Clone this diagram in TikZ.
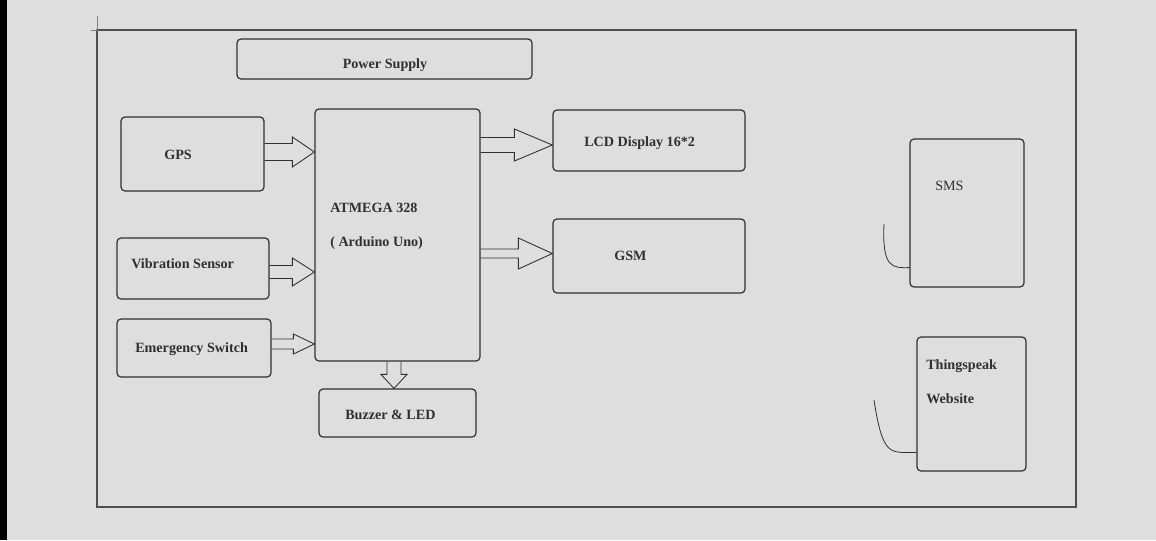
\documentclass[tikz,border=0pt]{standalone}
\usepackage{fontspec}
\setmainfont{Liberation Serif}
\usetikzlibrary{calc}
\definecolor{paper}{HTML}{DEDEDE}
\definecolor{ink}{HTML}{303030}
\tikzset{
  >=latex,
  box/.style={draw=ink,line width=0.9pt,rounded corners=3pt,inner sep=0pt},
  sz/.style 2 args={minimum width=#1*0.75pt,minimum height=#2*0.75pt},
  lbl/.style={font=\fontsize{10.6}{12}\selectfont\bfseries,text=ink,inner sep=0pt,anchor=base west},
  blockarrow/.style={draw=ink,line width=0.65pt,line join=miter},
  hook/.style={draw=ink,line width=0.6pt},
}
% hollow block arrows: start, tip, half shaft, half head, head length
\newcommand\harrow[5]{%
  \draw[blockarrow] ($(#1)+(0,#3)$) -- ($(#2)+(-#5,#3)$) -- ($(#2)+(-#5,#4)$)
    -- (#2) -- ($(#2)+(-#5,-#4)$) -- ($(#2)+(-#5,-#3)$) -- ($(#1)+(0,-#3)$);}
\newcommand\varrow[5]{%
  \draw[blockarrow] ($(#1)+(#3,0)$) -- ($(#2)+(#3,-#5)$) -- ($(#2)+(#4,-#5)$)
    -- (#2) -- ($(#2)+(-#4,-#5)$) -- ($(#2)+(-#3,-#5)$) -- ($(#1)+(-#3,0)$);}

\begin{document}
\begin{tikzpicture}[x=0.75pt,y=-0.75pt]
  \fill[paper] (0,0) rectangle (1156,540);
  \fill[black] (0,0) rectangle (7,540);
  % outer frame
  \draw[ink!85,line width=0.8pt] (97,30) rectangle (1076,507);
  \draw[ink!60,line width=0.4pt] (97,16) -- (97,30) -- (91,30);

  % blocks
  \node[box,sz={295}{40}] (power) at (384.5,59) {};
  \node[box,sz={143}{74}] (gps) at (192.5,154) {};
  \node[box,sz={152}{61}] (vib) at (193,268.5) {};
  \node[box,sz={154}{58}] (emg) at (194,348) {};
  \node[box,sz={165}{252}] (mcu) at (397.5,235) {};
  \node[box,sz={157}{48}] (buzz) at (397.5,413) {};
  \node[box,sz={192}{61}] (lcd) at (649,140.5) {};
  \node[box,sz={192}{74}] (gsm) at (649,256) {};
  \node[box,sz={114}{148}] (sms) at (967,213) {};
  \node[box,sz={109}{134}] (web) at (971.5,404) {};

  % texts
  \node[lbl,anchor=base] (powert) at (385,68) {Power Supply};
  \node[lbl] (gpst) at (164,159) {GPS};
  \node[lbl] (vibt) at (131,268) {Vibration Sensor};
  \node[lbl] (emgt) at (135,352) {Emergency Switch};
  \node[lbl] (mcut) at (330,212) {ATMEGA 328};
  \node[lbl] (mcut2) at (330,246) {( Arduino Uno)};
  \node[lbl] (buzzt) at (345,419) {Buzzer \& LED};
  \node[lbl] (lcdt) at (584,146) {LCD Display 16*2};
  \node[lbl] (gsmt) at (614,260) {GSM};
  \node[lbl,font=\fontsize{10.6}{12}\selectfont] (smst) at (935,190) {SMS};
  \node[lbl] (webt) at (926,369) {Thingspeak};
  \node[lbl] (webt2) at (926,403) {Website};

  % arrows
  \coordinate (gpsout) at ($(gps.east)+(0,-2)$);
  \coordinate (gpsin) at (mcu.west |- gpsout);
  \coordinate (vibout) at ($(vib.east)+(0,3.5)$);
  \coordinate (vibin) at (mcu.west |- vibout);
  \coordinate (emgout) at ($(emg.east)+(0,-4)$);
  \coordinate (emgin) at (mcu.west |- emgout);
  \coordinate (lcdin) at ($(lcd.west)+(0,4.5)$);
  \coordinate (lcdout) at (mcu.east |- lcdin);
  \coordinate (gsmin) at ($(gsm.west)+(0,-2.5)$);
  \coordinate (gsmout) at (mcu.east |- gsmin);
  \coordinate (buzzin) at ($(buzz.north)+(-3.5,0)$);
  \coordinate (buzzout) at (mcu.south -| buzzin);
  \harrow{gpsout}{gpsin}{8.5}{15}{22}
  \harrow{vibout}{vibin}{6.5}{14}{22}
  \harrow{emgout}{emgin}{5}{10}{21}
  \harrow{lcdout}{lcdin}{7.5}{16}{38}
  \harrow{gsmout}{gsmin}{4.5}{15.5}{34}
  \varrow{buzzout}{buzzin}{7}{13}{14}

  % loose hooks
  \coordinate (smshook) at (884,224);
  \coordinate (webhook) at (874,400);
  \draw[hook] (smshook) .. controls (882,268) and (892,268) .. ($(sms.south west)+(0,-20)$);
  \draw[hook] (webhook) .. controls (883,458) and (890,452) .. ($(web.south west)+(0,-19)$);
\end{tikzpicture}
\end{document}
